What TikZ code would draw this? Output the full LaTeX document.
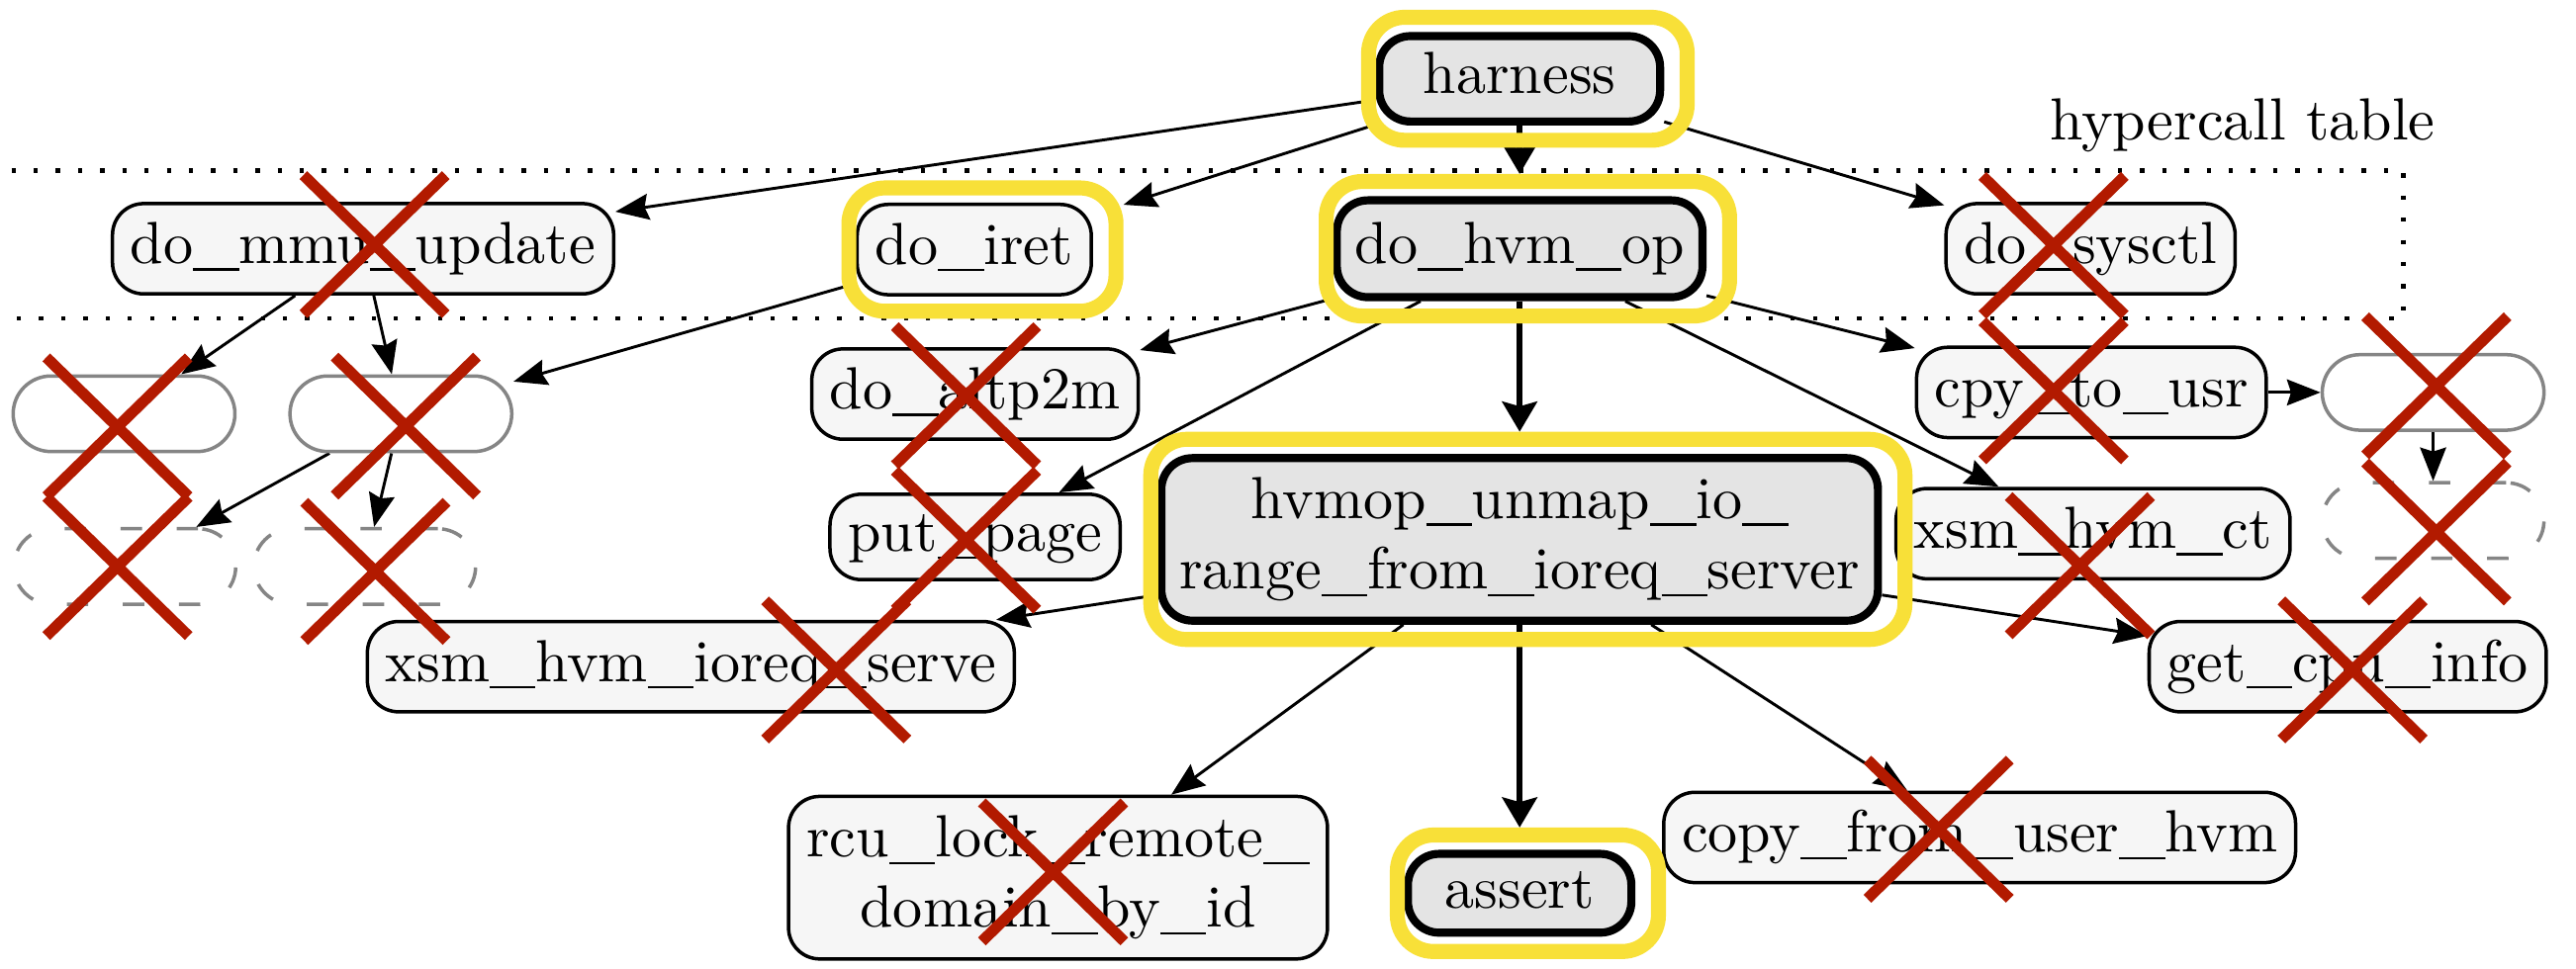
\documentclass[tikz,border=0pt]{standalone}
\usepackage{tikz}
\usetikzlibrary{arrows.meta, fit, backgrounds, shapes.misc}

\definecolor{hotgray}{HTML}{E4E4E4}
\definecolor{nodegray}{HTML}{F6F6F6}
\definecolor{pillgray}{HTML}{858585}
\definecolor{ringyellow}{HTML}{F8E038}
\definecolor{xred}{HTML}{B21A00}

\newcommand{\fnfont}{\fontsize{10.3}{12.2}\selectfont}
% long underscore used in the function names
\newcommand{\usc}{\rule[-0.12em]{0.77em}{0.04em}}

\tikzset{fnbox/.style={draw, line width=0.6pt, fill=nodegray, rounded corners=0.19cm,
   font=\fnfont, inner xsep=0.11cm, inner ysep=0pt, minimum height=0.55cm},
 fn/.style={fnbox, text height=7.4pt, text depth=2.3pt},
 hot/.style={line width=1.4pt, fill=hotgray},
 pill/.style={draw=pillgray, line width=0.6pt, fill=white, rounded corners=0.23cm,
   minimum width=1.35cm, minimum height=0.46cm},
 ghost/.style={pill, dash pattern=on 3.7pt off 6pt},
 ring/.style={draw=ringyellow, line width=2.6pt, rounded corners=0.22cm,
   inner xsep=0.09cm, inner ysep=0.09cm, xshift=0.05cm},
 struck/.style={cross out, draw=xred, line width=1.9pt, minimum width=0.80cm,
   minimum height=0.78cm, inner sep=0pt},
 call/.style={-{Stealth[length=5.8pt,width=4.5pt,inset=0.7pt]}, line width=0.5pt},
 hotcall/.style={-{Stealth[length=5.2pt,width=6pt,inset=0.8pt]}, line width=1.1pt},
 cluster/.style={line width=0.75pt, dash pattern=on 0.75pt off 3.09pt},
 }

\begin{document}
\begin{tikzpicture}
    \useasboundingbox (0,0) rectangle (15.68,5.90);

    % hypercall table cluster, open to the left
    \draw[cluster] (-0.2,4.86) -- (14.63,4.86) -- (14.63,3.96) -- (-0.2,3.96);
    \node[font=\fnfont, text height=7.4pt, text depth=2.3pt] (tbl) at (13.65,5.14) {hypercall table};

    \node[fn, hot, minimum width=1.71cm, minimum height=0.52cm] (harness) at (9.25,5.42) {harness};

    \node[fn] (dommu) at (2.21,4.385) {do\usc mmu\usc update};
    \node[fn] (doiret) at (5.93,4.38) {do\usc iret};
    \node[fn, hot, minimum height=0.59cm] (dohvm) at (9.25,4.385) {do\usc hvm\usc op};
    \node[fn] (dosysctl) at (12.725,4.385) {do\usc sysctl};

    \node[pill] (pl1) at (0.755,3.38) {};
    \node[pill] (pl2) at (2.44,3.38) {};
    \node[fn] (altp2m) at (5.935,3.50) {do\usc altp2m};
    \node[fn] (cpytousr) at (12.73,3.51) {cpy\usc to\usc usr};
    \node[pill] (pr) at (14.81,3.51) {};

    \node[ghost] (gh1) at (0.76,2.45) {};
    \node[ghost] (gh2) at (2.22,2.45) {};
    \node[fn, minimum height=0.52cm] (putpage) at (5.935,2.63) {put\usc page};
    \node[fnbox, hot, align=center, minimum height=0.99cm] (hvmop) at (9.25,2.615)
        {hvmop\usc unmap\usc io\usc\\range\usc from\usc ioreq\usc server};
    \node[fn] (xsmct) at (12.74,2.65) {xsm\usc hvm\usc ct};
    \node[ghost] (ghr) at (14.81,2.73) {};

    \node[fn] (xsmserve) at (4.205,1.84) {xsm\usc hvm\usc ioreq\usc serve};
    \node[fn] (getcpu) at (14.29,1.84) {get\usc cpu\usc info};

    \node[fnbox, align=center, minimum height=0.99cm] (rcu) at (6.44,0.555)
        {rcu\usc lock\usc remote\usc\\domain\usc by\usc id};
    \node[fn, hot, minimum width=1.36cm, minimum height=0.48cm] (assert) at (9.25,0.46) {assert};
    \node[fn] (copyfrom) at (12.05,0.80) {copy\usc from\usc user\usc hvm};

    % yellow second outline around the reached functions
    \foreach \n in {harness, doiret, dohvm, hvmop, assert} {
        \node[ring, fit=(\n)] (\n-r) {};
    }

    \begin{scope}[on background layer]
        \draw[call] (harness) -- (dommu);
        \draw[call] (harness) -- (doiret-r);
        \draw[hotcall] (harness) -- (harness |- dohvm-r.north);
        \draw[call] (harness) -- (dosysctl);

        \draw[call] (dommu) -- (pl1);
        \draw[call] (dommu) -- (pl2);
        \draw[call] (doiret) -- (pl2);
        \draw[call] (pl2) -- (gh1);
        \draw[call] (pl2) -- (gh2);

        \draw[call] (dohvm) -- (altp2m);
        \draw[call] (dohvm) -- (putpage);
        \draw[hotcall] (dohvm) -- (dohvm |- hvmop-r.north);
        \draw[call] (dohvm) -- (cpytousr);
        \draw[call] (dohvm) -- (xsmct);
        \draw[call] (cpytousr) -- (pr);
        \draw[call] (pr) -- (ghr);

        \draw[call] (hvmop) -- (xsmserve);
        \draw[call] (hvmop) -- (getcpu);
        \draw[call] (hvmop) -- (rcu);
        \draw[hotcall] (hvmop) -- (hvmop |- assert-r.north);
        \draw[call] (hvmop) -- (copyfrom);
    \end{scope}

    % crossed out calls
    \foreach \p [count=\i] in {(2.28,4.41), (12.50,4.405), (0.715,3.30), (2.47,3.305),
        (5.88,3.49), (12.50,3.52), (14.83,3.55), (0.715,2.45), (2.285,2.42), (5.88,2.61),
        (12.66,2.455), (14.83,2.66), (5.09,1.82), (14.32,1.82), (6.41,0.59), (11.80,0.85)} {
        \node[struck] (x\i) at \p {};
    }
\end{tikzpicture}
\end{document}
